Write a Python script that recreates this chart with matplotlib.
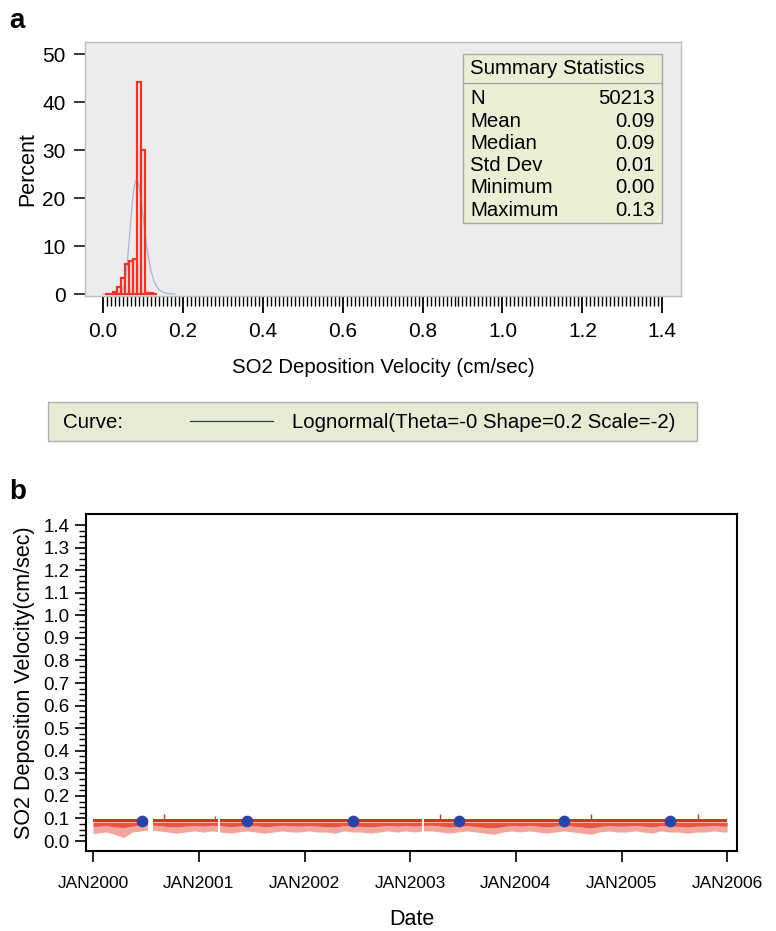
import numpy as np
import pandas as pd
import matplotlib
matplotlib.use('Agg')
import matplotlib.pyplot as plt
import matplotlib.dates as mdates
from matplotlib.patches import Rectangle
from matplotlib.lines import Line2D
from matplotlib.ticker import FixedLocator

plt.rcParams['font.family'] = ['Liberation Sans', 'DejaVu Sans']

# ---- panel a: histogram of deposition velocity ----
bin_centers = [0.01, 0.02, 0.03, 0.04, 0.05, 0.06, 0.07, 0.08, 0.09, 0.10, 0.11, 0.12, 0.13]
bin_percent = [0.05, 0.1, 0.4, 1.5, 3.3, 6.3, 6.8, 7.3, 44.2, 30.0, 0.25, 0.15, 0.05]
bin_width = 0.01

# fitted lognormal curve
curve_x = [0.0, 0.04, 0.05, 0.055, 0.06, 0.065, 0.07, 0.075, 0.08, 0.085, 0.09, 0.095,
           0.10, 0.105, 0.11, 0.115, 0.12, 0.13, 0.14, 0.15, 0.16, 0.17, 0.18]
curve_y = [0.0, 0.03, 0.8, 2.6, 5.9, 10.6, 15.9, 20.4, 23.3, 23.9, 22.6, 19.9,
           16.4, 12.9, 9.7, 7.0, 4.8, 2.2, 0.9, 0.36, 0.13, 0.05, 0.02]

stat_names = ['N', 'Mean', 'Median', 'Std Dev', 'Minimum', 'Maximum']
stat_values = ['50213', '0.09', '0.09', '0.01', '0.00', '0.13']

# ---- panel b: hourly series, summarised as monthly envelopes ----
months = pd.date_range('2000-01-01', '2005-12-01', freq='MS')
ts_low = [0.035, 0.040, 0.030, 0.015, 0.040, 0.045, 0.050, 0.045, 0.040, 0.035, 0.040, 0.045,
          0.040, 0.045, 0.040, 0.035, 0.040, 0.045, 0.040, 0.035, 0.040, 0.045, 0.040, 0.040,
          0.045, 0.040, 0.040, 0.035, 0.045, 0.040, 0.040, 0.035, 0.040, 0.045, 0.040, 0.045,
          0.040, 0.045, 0.045, 0.040, 0.035, 0.040, 0.045, 0.040, 0.035, 0.030, 0.040, 0.045,
          0.040, 0.045, 0.040, 0.035, 0.040, 0.045, 0.040, 0.035, 0.030, 0.040, 0.045, 0.040,
          0.040, 0.045, 0.040, 0.035, 0.045, 0.040, 0.040, 0.035, 0.040, 0.040, 0.045, 0.040]
ts_dense = [0.065, 0.068, 0.062, 0.060, 0.066, 0.070, 0.072, 0.068, 0.064, 0.062, 0.066, 0.068,
            0.066, 0.070, 0.068, 0.064, 0.066, 0.070, 0.068, 0.063, 0.066, 0.070, 0.067, 0.066,
            0.068, 0.066, 0.064, 0.062, 0.068, 0.066, 0.065, 0.062, 0.066, 0.069, 0.066, 0.068,
            0.066, 0.069, 0.070, 0.066, 0.062, 0.065, 0.068, 0.064, 0.060, 0.058, 0.064, 0.068,
            0.066, 0.069, 0.066, 0.062, 0.066, 0.070, 0.066, 0.062, 0.058, 0.064, 0.068, 0.066,
            0.066, 0.069, 0.066, 0.062, 0.068, 0.066, 0.065, 0.062, 0.066, 0.066, 0.069, 0.066]
ts_core = [0.084] * 72
ts_high = [0.099] * 72

gap_starts = ['2000-07-08', '2001-03-07', '2003-02-12']
gap_ends = ['2000-07-28', '2001-03-14', '2003-02-19']

spike_dates = ['2000-09-01', '2001-02-27', '2003-04-15', '2004-09-15', '2005-09-22']
spike_vals = [0.118, 0.110, 0.120, 0.118, 0.120]

mean_dates = ['2000-06-17', '2001-06-17', '2002-06-17', '2003-06-17', '2004-06-17', '2005-06-17']
mean_vals = [0.090, 0.090, 0.090, 0.090, 0.090, 0.090]

year_ticks = pd.date_range('2000-01-01', '2006-01-01', freq='YS')

W, H = 776, 931
fig = plt.figure(figsize=(W / 100, H / 100), dpi=100)


def fx(x):
    return x / W


def fy(y):
    return 1 - y / H


# ---------------- panel a ----------------
ax1 = fig.add_axes([fx(85), fy(296), fx(681) - fx(85), fy(42) - fy(296)])
ax1.set_facecolor('#ececec')
for s in ax1.spines.values():
    s.set_color('#bdbdbd')
    s.set_linewidth(1.0)

ax1.bar(bin_centers, bin_percent, width=bin_width, fill=False,
        edgecolor='#e8372a', linewidth=1.6, zorder=3)
ax1.plot(curve_x, curve_y, color='#aab3dc', lw=0.9, zorder=2)

ax1.set_xlim(-0.045, 1.447)
ax1.set_ylim(-0.4, 52.5)
ax1.xaxis.set_major_locator(FixedLocator(np.round(np.arange(0, 1.41, 0.2), 1)))
ax1.xaxis.set_minor_locator(FixedLocator(np.arange(0, 1.405, 0.01)))
ax1.yaxis.set_major_locator(FixedLocator([0, 10, 20, 30, 40, 50]))
ax1.set_xticklabels(['%.1f' % v for v in np.arange(0, 1.41, 0.2)])
ax1.tick_params(axis='x', which='major', length=12, width=1.3, labelsize=15, pad=7)
ax1.tick_params(axis='x', which='minor', length=7, width=1.0)
ax1.tick_params(axis='y', which='major', length=8, width=1.1, labelsize=15, pad=6)
ax1.set_xlabel('SO2 Deposition Velocity (cm/sec)', fontsize=14.7, labelpad=12)
ax1.set_ylabel('Percent', fontsize=15.5, labelpad=3)

fig.text(fx(9), fy(21), 'a', fontsize=20, fontweight='bold', va='center')

# summary statistics box
fig.patches.append(Rectangle((fx(463), fy(223)), fx(662) - fx(463), fy(54) - fy(223),
                             transform=fig.transFigure, facecolor='#ebeed5',
                             edgecolor='#a8a8a8', lw=1.0, zorder=5))
fig.lines.append(Line2D([fx(463), fx(662)], [fy(83), fy(83)], transform=fig.transFigure,
                        color='#a8a8a8', lw=1.0, zorder=6))
fig.text(fx(470), fy(69), 'Summary Statistics', fontsize=14.7, va='center', zorder=7)
for i, (n, v) in enumerate(zip(stat_names, stat_values)):
    yy = 99 + i * 22.2
    fig.text(fx(470), fy(yy), n, fontsize=14.7, va='center', zorder=7)
    fig.text(fx(655), fy(yy), v, fontsize=14.7, va='center', ha='right', zorder=7)

# curve legend box
fig.patches.append(Rectangle((fx(48), fy(441)), fx(697) - fx(48), fy(402) - fy(441),
                             transform=fig.transFigure, facecolor='#e8ebd3',
                             edgecolor='#b0b0b0', lw=1.0))
fig.text(fx(63), fy(422), 'Curve:', fontsize=14.7, va='center')
fig.lines.append(Line2D([fx(190), fx(273)], [fy(421), fy(421)], transform=fig.transFigure,
                        color='#26369a', lw=0.9))
fig.text(fx(292), fy(422), 'Lognormal(Theta=-0 Shape=0.2 Scale=-2)', fontsize=14.7, va='center')

# ---------------- panel b ----------------
ax2 = fig.add_axes([fx(86), fy(851), fx(737) - fx(86), fy(514) - fy(851)])
for s in ax2.spines.values():
    s.set_color('black')
    s.set_linewidth(1.5)

mid = months + pd.Timedelta(days=15)
xs = pd.DatetimeIndex([months[0]]).append(mid).append(pd.DatetimeIndex(['2005-12-31']))
low = np.concatenate([[ts_low[0]], ts_low, [ts_low[-1]]])
dense = np.concatenate([[ts_dense[0]], ts_dense, [ts_dense[-1]]])
core = np.concatenate([[ts_core[0]], ts_core, [ts_core[-1]]])
high = np.concatenate([[ts_high[0]], ts_high, [ts_high[-1]]])

ax2.fill_between(xs, low, dense, color='#ea6a5a', alpha=0.6, lw=0, zorder=2)
ax2.fill_between(xs, dense, core, color='#e4412f', alpha=0.9, lw=0, zorder=2)
ax2.fill_between(xs, core, high, color='#df2f1c', lw=0, zorder=2)

for g0, g1 in zip(gap_starts, gap_ends):
    ax2.fill_between(pd.to_datetime([g0, g1]), [0, 0], [0.105, 0.105],
                     color='white', lw=0, zorder=3)

ax2.vlines(pd.to_datetime(spike_dates), 0.095, spike_vals, color='#e0301e', lw=1.0, zorder=3)
ax2.scatter(pd.to_datetime(mean_dates), mean_vals, s=55, color='#2b44a6', zorder=4)

ax2.set_xlim(pd.Timestamp('1999-12-08'), pd.Timestamp('2006-02-03'))
ax2.set_ylim(-0.044, 1.449)
ax2.set_xticks(year_ticks)
ax2.xaxis.set_major_formatter(mdates.DateFormatter('JAN%Y'))
ax2.yaxis.set_major_locator(FixedLocator(np.round(np.arange(0, 1.41, 0.1), 1)))
ax2.yaxis.set_minor_locator(FixedLocator(np.arange(0, 1.4001, 0.025)))
ax2.set_yticklabels(['%.1f' % v for v in np.arange(0, 1.41, 0.1)])
ax2.tick_params(axis='x', which='major', length=8, width=1.2, labelsize=12.5, pad=10)
ax2.tick_params(axis='y', which='major', length=8, width=1.2, labelsize=13.5, pad=4)
ax2.tick_params(axis='y', which='minor', length=5, width=1.0)
ax2.set_xlabel('Date', fontsize=15.5, labelpad=13)
ax2.set_ylabel('SO2 Deposition Velocity(cm/sec)', fontsize=15.5, labelpad=6)

fig.text(fx(9), fy(492), 'b', fontsize=20, fontweight='bold', va='center')

fig.savefig('out.png', dpi=100)
